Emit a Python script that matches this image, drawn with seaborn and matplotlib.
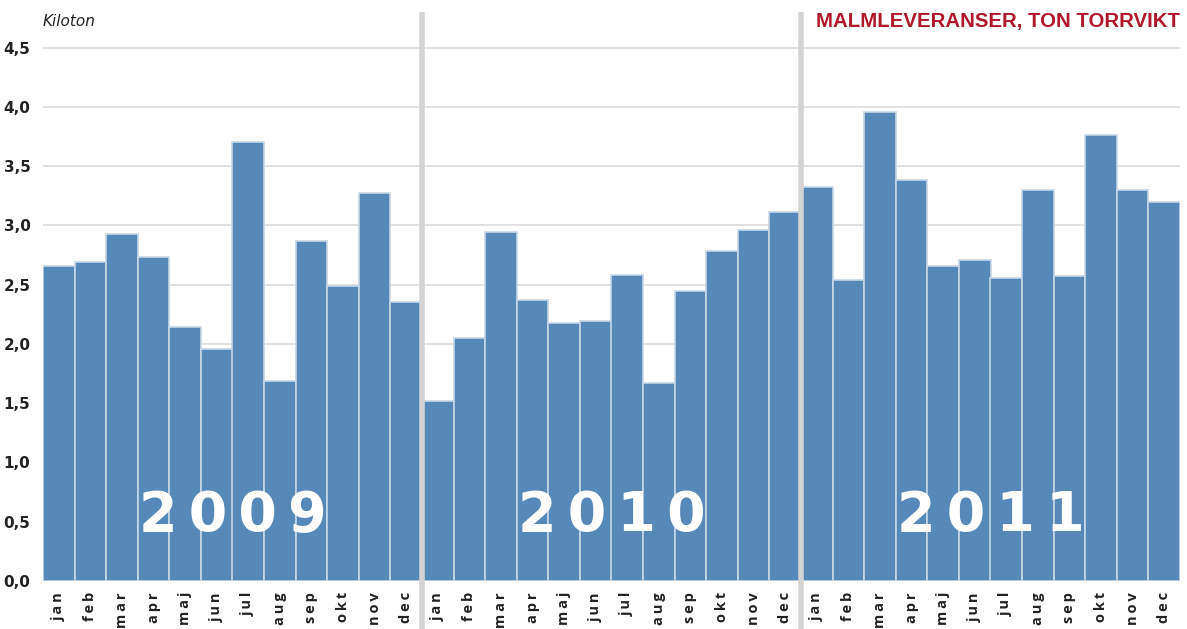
import pandas as pd
import matplotlib.pyplot as plt
import matplotlib.transforms as mtransforms
import seaborn as sns

# Malmleveranser per månad, kiloton
manader = ['jan', 'feb', 'mar', 'apr', 'maj', 'jun', 'jul', 'aug', 'sep', 'okt', 'nov', 'dec']
ar = ['2009', '2010', '2011']
v2009 = [2.66, 2.69, 2.93, 2.73, 2.14, 1.96, 3.70, 1.69, 2.87, 2.49, 3.27, 2.35]
v2010 = [1.52, 2.05, 2.94, 2.37, 2.18, 2.19, 2.58, 1.67, 2.45, 2.78, 2.96, 3.11]
v2011 = [3.32, 2.54, 3.96, 3.38, 2.66, 2.71, 2.56, 3.30, 2.57, 3.76, 3.30, 3.20]

df = pd.DataFrame({
    'pos': list(range(36)),
    'varde': v2009 + v2010 + v2011,
})

sns.set_style('white')
fig = plt.figure(figsize=(11.87, 6.29), dpi=100)
ax = fig.add_axes([43 / 1187, 1 - 581 / 629, 1137 / 1187, 569 / 629])

ax.set_axisbelow(True)
for y in [0.5, 1.0, 1.5, 2.0, 2.5, 3.0, 3.5, 4.0, 4.5]:
    ax.axhline(y, color='#dcdcdc', lw=1.2, zorder=0)

sns.barplot(data=df, x='pos', y='varde', color='#5689b8', saturation=1,
            width=1, edgecolor='#c6d7e8', linewidth=1.2, ax=ax, zorder=2)

ax.set_xlim(-0.5, 35.5)
ax.set_ylim(0, 4.8)
ax.set_xlabel('')
ax.set_ylabel('')
for s in ax.spines.values():
    s.set_visible(False)

ax.set_yticks([0, 0.5, 1.0, 1.5, 2.0, 2.5, 3.0, 3.5, 4.0, 4.5])
ax.set_yticklabels([f'{t:.1f}'.replace('.', ',') for t in ax.get_yticks()],
                   fontsize=11, fontweight='bold', color='#222222')
ax.tick_params(axis='y', length=0, pad=9)
ax.set_xticks(range(36))
ax.set_xticklabels(['\u2009'.join(m) for m in manader * 3], rotation=90,
                   fontsize=10.5, fontweight='bold', color='#222222', family='Open Sans')
ax.tick_params(axis='x', length=0, pad=8)

# grå avdelare mellan åren
trans = mtransforms.blended_transform_factory(ax.transData, ax.transAxes)
for x in [11.5, 23.5]:
    ax.plot([x, x], [-0.2, 1.0], transform=trans, color='#d4d4d4', lw=4,
            clip_on=False, zorder=3, solid_capstyle='butt')

# årtal i staplarna
for i, a in enumerate(ar):
    ax.text(i * 12 + 5.5, 0.55, '\u2009'.join(a), color='white', fontsize=40,
            fontweight='bold', ha='center', va='center', zorder=4)

fig.text(43 / 1187, 1 - 22 / 629, 'Kiloton', fontsize=11, style='italic',
         color='#222222', va='center', ha='left')
fig.text(1180 / 1187, 1 - 22 / 629, 'MALMLEVERANSER, TON TORRVIKT', fontsize=14.7,
         fontweight='bold', color='#b0182a', va='center', ha='right',
         family='Liberation Sans')

fig.savefig('out.png', dpi=100)
